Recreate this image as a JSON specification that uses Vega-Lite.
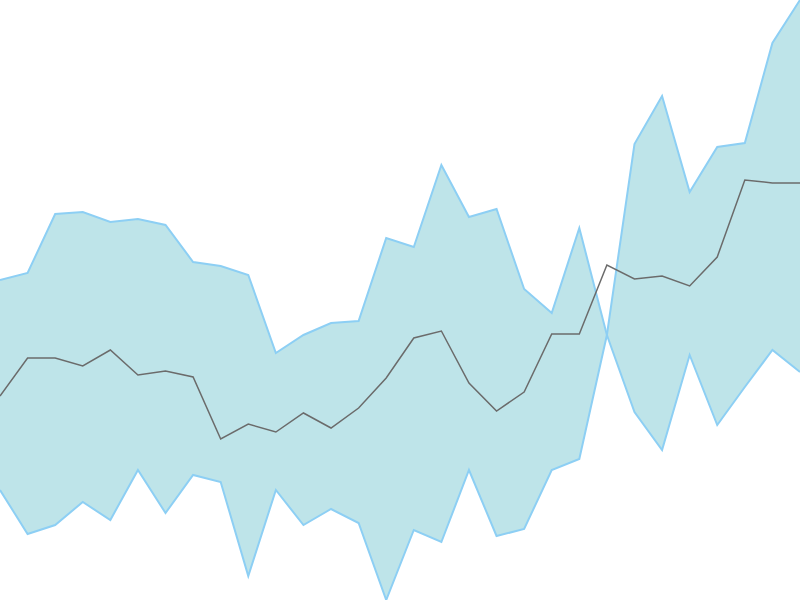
{
  "$schema": "https://vega.github.io/schema/vega-lite/v6.json",
  "width": 800,
  "height": 600,
  "autosize": {"type": "none"},
  "padding": 0,
  "background": "white",
  "config": {"view": {"stroke": null}},
  "data": {
    "values": [
      {"i": 0, "hi": 320, "lo": 110, "mid": 204},
      {"i": 1, "hi": 327, "lo": 66, "mid": 242},
      {"i": 2, "hi": 386, "lo": 75, "mid": 242},
      {"i": 3, "hi": 388, "lo": 98, "mid": 234},
      {"i": 4, "hi": 378, "lo": 80, "mid": 250},
      {"i": 5, "hi": 381, "lo": 130, "mid": 225},
      {"i": 6, "hi": 375, "lo": 87, "mid": 229},
      {"i": 7, "hi": 338, "lo": 125, "mid": 223},
      {"i": 8, "hi": 334, "lo": 118, "mid": 161},
      {"i": 9, "hi": 325, "lo": 24, "mid": 176},
      {"i": 10, "hi": 247, "lo": 110, "mid": 168},
      {"i": 11, "hi": 265, "lo": 75, "mid": 187},
      {"i": 12, "hi": 277, "lo": 91, "mid": 172},
      {"i": 13, "hi": 279, "lo": 77, "mid": 192},
      {"i": 14, "hi": 362, "lo": 0, "mid": 222},
      {"i": 15, "hi": 353, "lo": 70, "mid": 262},
      {"i": 16, "hi": 435, "lo": 58, "mid": 269},
      {"i": 17, "hi": 383, "lo": 130, "mid": 217},
      {"i": 18, "hi": 391, "lo": 64, "mid": 189},
      {"i": 19, "hi": 311, "lo": 71, "mid": 208},
      {"i": 20, "hi": 287, "lo": 130, "mid": 266},
      {"i": 21, "hi": 372, "lo": 141, "mid": 266},
      {"i": 22, "hi": 265, "lo": 265, "mid": 335},
      {"i": 23, "hi": 188, "lo": 456, "mid": 321},
      {"i": 24, "hi": 150, "lo": 504, "mid": 324},
      {"i": 25, "hi": 245, "lo": 408, "mid": 314},
      {"i": 26, "hi": 175, "lo": 453, "mid": 343},
      {"i": 27, "hi": 213, "lo": 457, "mid": 420},
      {"i": 28, "hi": 250, "lo": 557, "mid": 417},
      {"i": 29, "hi": 228, "lo": 600, "mid": 417}
    ]
  },
  "encoding": {
    "x": {"field": "i", "type": "quantitative", "axis": null, "scale": {"domain": [0, 29], "nice": false, "zero": false}}
  },
  "layer": [
    {
      "mark": {"type": "area", "color": "#bee4e9", "opacity": 1},
      "encoding": {
        "y": {"field": "hi", "type": "quantitative", "axis": null, "scale": {"domain": [0, 600], "nice": false}},
        "y2": {"field": "lo"}
      }
    },
    {
      "mark": {"type": "line", "color": "#8dcff4", "strokeWidth": 2},
      "encoding": {
        "y": {"field": "hi", "type": "quantitative", "axis": null, "scale": {"domain": [0, 600], "nice": false}}
      }
    },
    {
      "mark": {"type": "line", "color": "#8dcff4", "strokeWidth": 2},
      "encoding": {
        "y": {"field": "lo", "type": "quantitative", "axis": null, "scale": {"domain": [0, 600], "nice": false}}
      }
    },
    {
      "mark": {"type": "line", "color": "#6b6b6b", "strokeWidth": 1.5},
      "encoding": {
        "y": {"field": "mid", "type": "quantitative", "axis": null, "scale": {"domain": [0, 600], "nice": false}}
      }
    }
  ]
}
